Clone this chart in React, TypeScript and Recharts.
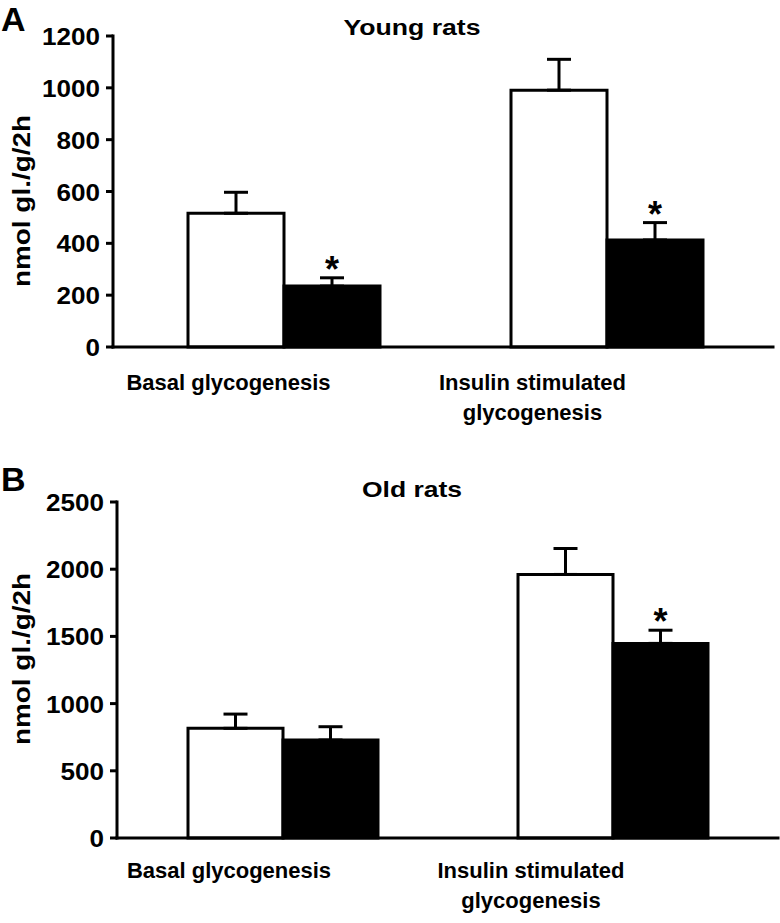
import React from 'react';
import { BarChart, Bar, XAxis, YAxis, ErrorBar, LabelList, Customized } from 'recharts';

// categories and the two-line tick text
const categories = ['Basal glycogenesis', 'Insulin stimulated glycogenesis'];
const categoryLines = [['Basal glycogenesis'], ['Insulin stimulated', 'glycogenesis']];

// panel A – young rats (mean, upper SE)
const youngControl = [516, 991];
const youngControlErr = [81, 119];
const youngTreated = [235, 413];
const youngTreatedErr = [32, 67];
const youngSignificant = [true, true];

// panel B – old rats
const oldControl = [816, 1961];
const oldControlErr = [106, 193];
const oldTreated = [729, 1448];
const oldTreatedErr = [99, 98];
const oldSignificant = [false, true];

const youngTicks = [0, 200, 400, 600, 800, 1000, 1200];
const oldTicks = [0, 500, 1000, 1500, 2000, 2500];

const FONT = '"Liberation Sans", Arial, Helvetica, sans-serif';

const buildRows = (
  ctl: number[],
  ctlErr: number[],
  trt: number[],
  trtErr: number[],
  sig: boolean[]
) =>
  categories.map((name, i) => ({
    name,
    control: ctl[i],
    controlErr: [0, ctlErr[i]],
    treated: trt[i],
    treatedErr: [0, trtErr[i]],
    // error length relative to the bar, used to put the star above the error cap
    star: sig[i] ? trtErr[i] / trt[i] : null,
  }));

const youngRows = buildRows(youngControl, youngControlErr, youngTreated, youngTreatedErr, youngSignificant);
const oldRows = buildRows(oldControl, oldControlErr, oldTreated, oldTreatedErr, oldSignificant);

const ValueTick = (props: any) => {
  const { x, y, payload } = props;
  const s = String(payload.value);
  return (
    <text
      x={x}
      y={y}
      dy={1}
      textAnchor="end"
      dominantBaseline="central"
      fontFamily={FONT}
      fontWeight="bold"
      fontSize={23}
      fill="#000"
      textLength={s.length * 14.5}
      lengthAdjust="spacingAndGlyphs"
    >
      {s}
    </text>
  );
};

const makeCategoryTick = (shifts: number[], firstDy: number) => (props: any) => {
  const { x, y, payload } = props;
  const idx = categories.indexOf(payload.value);
  const lines = categoryLines[idx] || [payload.value];
  const cx = x + shifts[idx];
  return (
    <text x={cx} y={y + firstDy} textAnchor="middle" fontFamily={FONT} fontWeight="bold" fontSize={22} fill="#000">
      {lines.map((l, k) => (
        <tspan key={k} x={cx} dy={k === 0 ? 0 : 30}>
          {l}
        </tspan>
      ))}
    </text>
  );
};

const renderStar = (props: any) => {
  const { x, y, width, height, value } = props;
  if (value == null) return null;
  const errTop = y - value * height;
  return (
    <text x={x + width / 2} y={errTop + 4} textAnchor="middle" fontFamily={FONT} fontWeight="bold" fontSize={36} fill="#000">
      *
    </text>
  );
};

const Overlay = (props: any) => {
  const { letter, letterY, title, titleY, titleLen, labelY } = props;
  return (
    <g fontFamily={FONT} fontWeight="bold" fill="#000">
      <text x={1} y={letterY} fontSize={34}>
        {letter}
      </text>
      <text x={412} y={titleY} textAnchor="middle" fontSize={22} textLength={titleLen} lengthAdjust="spacingAndGlyphs">
        {title}
      </text>
      <text
        x={22}
        y={labelY}
        transform={`rotate(-90 22 ${labelY})`}
        textAnchor="middle"
        dominantBaseline="central"
        fontSize={23}
        textLength={172}
        lengthAdjust="spacingAndGlyphs"
      >
        nmol gl./g/2h
      </text>
    </g>
  );
};

const axisStyle = { stroke: '#000', strokeWidth: 3, strokeLinecap: 'square' as const };

interface PanelProps {
  rows: any[];
  ticks: number[];
  height: number;
  top: number;
  plotTop: number;
  axisWidth: number;
  xAxisHeight: number;
  rightMargin: number;
  padding: { left: number; right: number };
  barSize: number;
  shifts: number[];
  firstDy: number;
  overlay: any;
}

const Panel: React.FC<PanelProps> = ({
  rows,
  ticks,
  height,
  top,
  plotTop,
  axisWidth,
  xAxisHeight,
  rightMargin,
  padding,
  barSize,
  shifts,
  firstDy,
  overlay,
}) => (
  <div style={{ position: 'absolute', left: 0, top }}>
    <BarChart
      width={780}
      height={height}
      data={rows}
      margin={{ top: plotTop, right: rightMargin, left: 0, bottom: 0 }}
      barGap={0}
      barSize={barSize}
    >
      <XAxis
        dataKey="name"
        interval={0}
        height={xAxisHeight}
        padding={padding}
        axisLine={axisStyle}
        tickLine={false}
        tickSize={0}
        tickMargin={0}
        tick={makeCategoryTick(shifts, firstDy)}
      />
      <YAxis
        type="number"
        width={axisWidth}
        domain={[0, ticks[ticks.length - 1]]}
        ticks={ticks}
        interval={0}
        axisLine={axisStyle}
        tickLine={{ stroke: '#000', strokeWidth: 3 }}
        tickSize={7}
        tickMargin={6}
        tick={<ValueTick />}
      />
      <Bar dataKey="control" fill="#fff" stroke="#000" strokeWidth={3} isAnimationActive={false}>
        <ErrorBar dataKey="controlErr" direction="y" width={12} stroke="#000" strokeWidth={3} />
      </Bar>
      <Bar dataKey="treated" fill="#000" stroke="#000" strokeWidth={3} isAnimationActive={false}>
        <ErrorBar dataKey="treatedErr" direction="y" width={12} stroke="#000" strokeWidth={3} />
        <LabelList dataKey="star" content={renderStar} />
      </Bar>
      <Customized component={overlay} />
    </BarChart>
  </div>
);

const App: React.FC = () => (
  <div style={{ position: 'absolute', left: 0, top: 0, width: 780, height: 923, background: '#fff' }}>
    <Panel
      rows={youngRows}
      ticks={youngTicks}
      height={460}
      top={0}
      plotTop={36}
      axisWidth={113}
      xAxisHeight={113}
      rightMargin={7}
      padding={{ left: 9, right: 5 }}
      barSize={96}
      shifts={[-55, -74]}
      firstDy={43}
      overlay={<Overlay letter="A" letterY={31} title="Young rats" titleY={35} titleLen={137} labelY={201} />}
    />
    <Panel
      rows={oldRows}
      ticks={oldTicks}
      height={463}
      top={460}
      plotTop={42}
      axisWidth={117}
      xAxisHeight={85}
      rightMargin={2}
      padding={{ left: 1, right: 0 }}
      barSize={95}
      shifts={[-54, -82]}
      firstDy={40}
      overlay={<Overlay letter="B" letterY={31} title="Old rats" titleY={37} titleLen={100} labelY={199} />}
    />
  </div>
);

export default App;
